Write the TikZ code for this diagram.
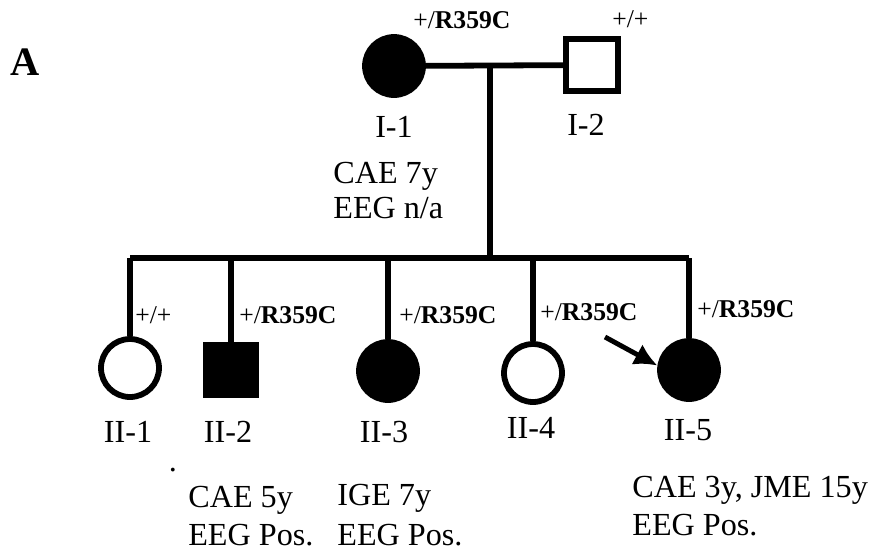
\documentclass[tikz,border=0pt]{standalone}
\usepackage{fontspec}
\setmainfont{Liberation Serif}
\usetikzlibrary{arrows.meta}
\tikzset{>={Latex[width=4.6mm,length=4.6mm]}}

\newcommand{\het}{+/\textbf{R359C}}
\newcommand{\wt}{+/+}

\tikzset{
  line/.style={line width=3.3pt},
  female/.style={circle, draw, line width=3.3pt, minimum size=1.16cm, inner sep=0pt},
  male/.style={rectangle, draw, line width=3.3pt, minimum size=1.04cm, inner sep=0pt},
  affected/.style={fill=black},
  geno/.style={anchor=base west, inner sep=0pt, font=\fontsize{14.6}{17}\selectfont},
  tag/.style={anchor=base, inner sep=0pt, font=\fontsize{18.3}{22}\selectfont},
  info/.style={anchor=base west, inner sep=0pt, font=\fontsize{18.3}{22}\selectfont}
}

\begin{document}
\begin{tikzpicture}[x=0.02cm, y=-0.02cm]

  \useasboundingbox (0,0) rectangle (875,555);

  % generation I
  \node[female, affected] (I1) at (394,66) {};
  \node[male] (I2) at (592,65) {};

  % generation II
  \node[female] (II1) at (130,368) {};
  \node[male, affected, minimum size=1.02cm] (II2) at (231,370) {};
  \node[female, affected] (II3) at (388,371) {};
  \node[female] (II4) at (533,373) {};
  \node[female, affected] (II5) at (689,370) {};

  \coordinate (mate) at (490,65);
  \coordinate (sib) at (490,258);
  \coordinate (pb) at (605,337);

  % mating and sibship lines
  \draw[line] (I1) -- (I2);
  \draw[line] (mate) -- (sib);
  \draw[line] (II1.north |- sib) -- (II5.north |- sib);
  \draw[line] (II1.north |- sib) -- (II1.north);
  \draw[line] (II2.north |- sib) -- (II2.north);
  \draw[line] (II3.north |- sib) -- (II3.north);
  \draw[line] (II4.north |- sib) -- (II4.north);
  \draw[line] (II5.north |- sib) -- (II5.north);

  % proband
  \draw[line width=2.8pt,->] (pb) -- (II5.172);

  % genotypes
  \node[geno] (gI1) at (413,28) {\het};
  \node[geno] (gI2) at (612,27) {\wt};
  \node[geno] (gII1) at (135,323) {\wt};
  \node[geno] (gII2) at (239,323) {\het};
  \node[geno] (gII3) at (399,323) {\het};
  \node[geno] (gII4) at (540,320) {\het};
  \node[geno] (gII5) at (697,317) {\het};

  % individual numbers
  \node[tag] (tI1) at (394,137) {I-1};
  \node[tag] (tI2) at (586,135) {I-2};
  \node[tag] (tII1) at (128,442) {II-1};
  \node[tag] (tII2) at (228,442) {II-2};
  \node[tag] (tII3) at (384,442) {II-3};
  \node[tag] (tII4) at (531,438) {II-4};
  \node[tag] (tII5) at (688,440) {II-5};
  \node[tag] (dot) at (173,471) {.};

  % phenotypes
  \node[info] (pI1a) at (333,183) {CAE 7y};
  \node[info] (pI1b) at (333,218) {EEG n/a};
  \node[info] (pII2a) at (188,507) {CAE 5y};
  \node[info] (pII2b) at (188,545) {EEG Pos.};
  \node[info] (pII3a) at (337,505) {IGE 7y};
  \node[info] (pII3b) at (337,545) {EEG Pos.};
  \node[info] (pII5a) at (632,497) {CAE 3y, JME 15y};
  \node[info] (pII5b) at (632,535) {EEG Pos.};

  \node[anchor=base west, inner sep=0pt, font=\bfseries\fontsize{23}{26}\selectfont] (panel) at (10,75) {A};

\end{tikzpicture}
\end{document}
